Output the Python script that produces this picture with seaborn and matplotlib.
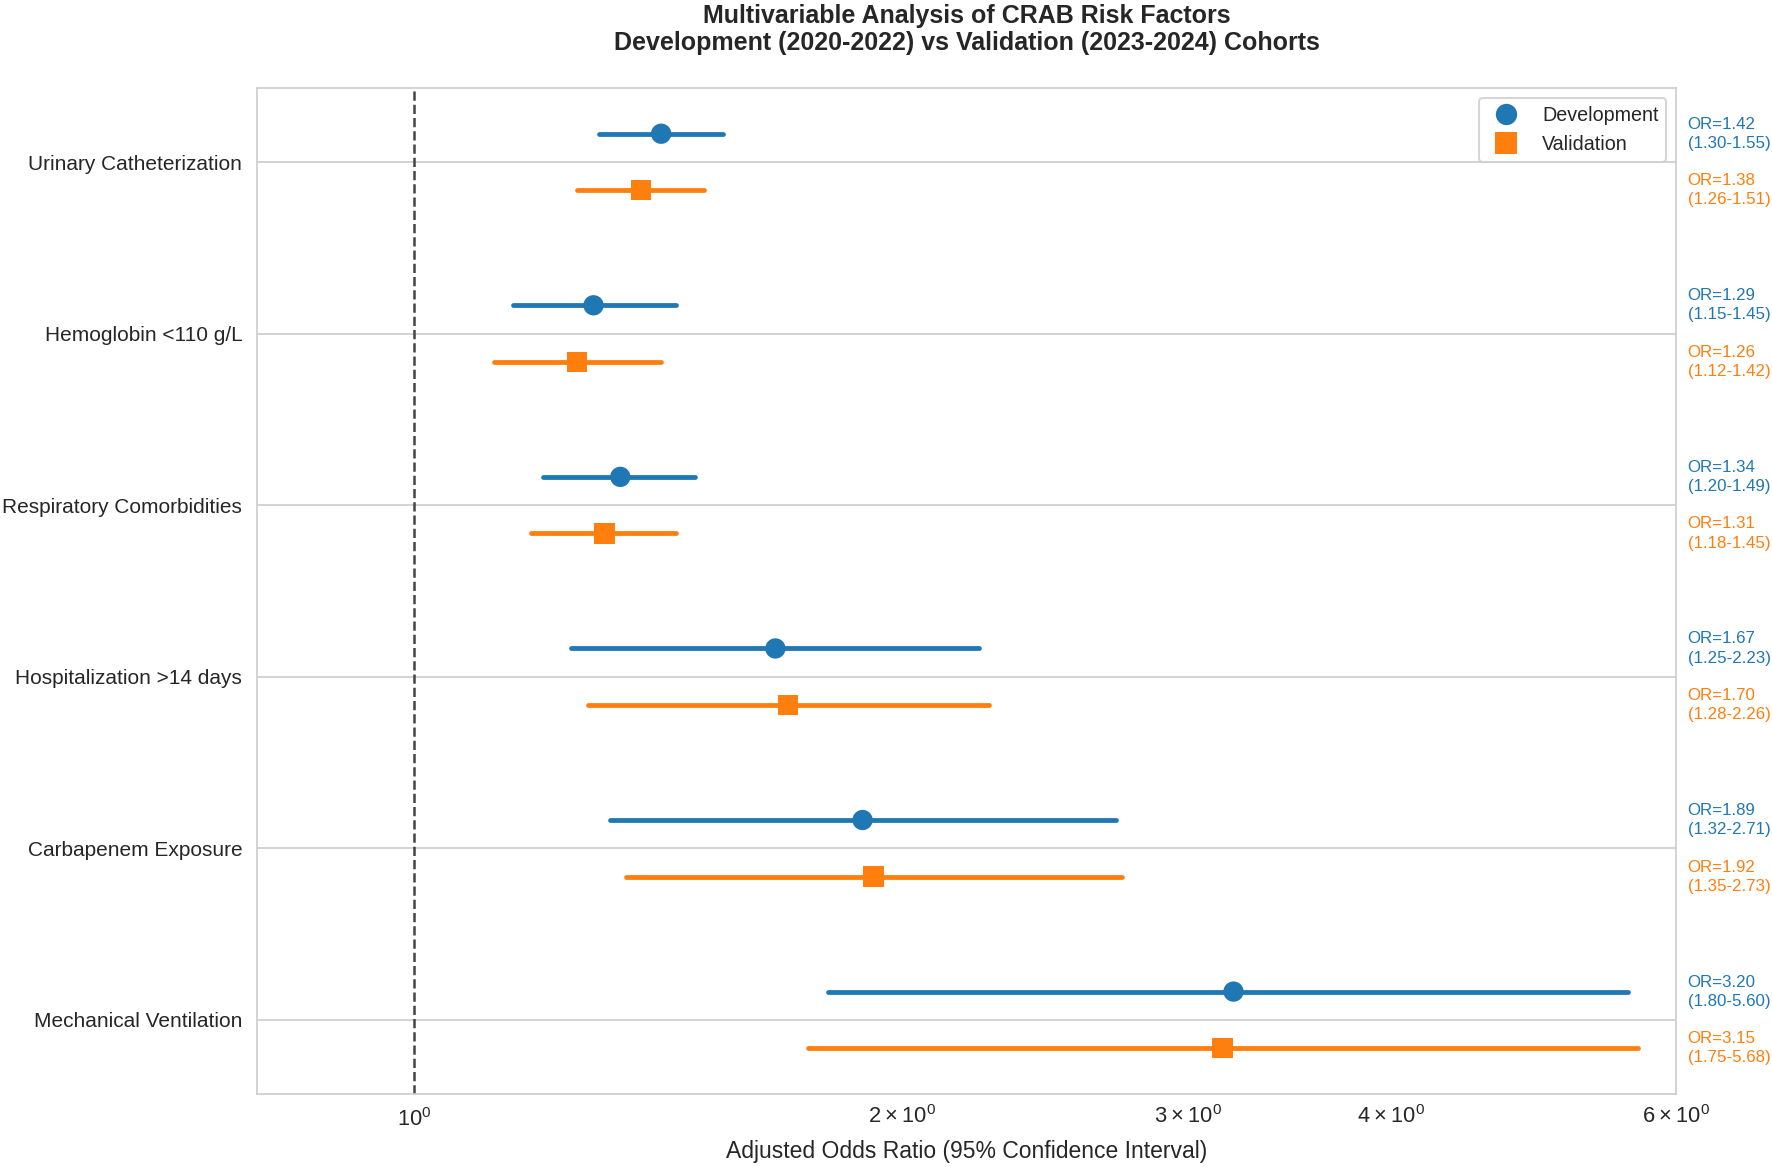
import matplotlib
matplotlib.use("Agg")
import matplotlib.pyplot as plt
import seaborn as sns
import pandas as pd
import numpy as np

# Data (top to bottom)
factors = ["Urinary Catheterization", "Hemoglobin <110 g/L", "Respiratory Comorbidities",
           "Hospitalization >14 days", "Carbapenem Exposure", "Mechanical Ventilation"]
dev_or = [1.42, 1.29, 1.34, 1.67, 1.89, 3.20]
dev_lo = [1.30, 1.15, 1.20, 1.25, 1.32, 1.80]
dev_hi = [1.55, 1.45, 1.49, 2.23, 2.71, 5.60]
val_or = [1.38, 1.26, 1.31, 1.70, 1.92, 3.15]
val_lo = [1.26, 1.12, 1.18, 1.28, 1.35, 1.75]
val_hi = [1.51, 1.42, 1.45, 2.26, 2.73, 5.68]

cohorts = ["Development", "Validation"]
colors = {"Development": "#1f77b4", "Validation": "#ff7f0e"}
offset = 0.165

rows = []
for i, f in enumerate(factors):
    rows.append({"factor": f, "cohort": "Development", "y": i - offset,
                 "OR": dev_or[i], "lo": dev_lo[i], "hi": dev_hi[i]})
    rows.append({"factor": f, "cohort": "Validation", "y": i + offset,
                 "OR": val_or[i], "lo": val_lo[i], "hi": val_hi[i]})
df = pd.DataFrame(rows)

sns.set_style("whitegrid")
plt.rcParams["font.family"] = ["Liberation Sans", "DejaVu Sans"]

fig = plt.figure(figsize=(1772 / 150, 1167 / 150), dpi=150)
ax = fig.add_axes([0.145, 0.0626, 0.801, 0.862])

# confidence interval lines
for c in cohorts:
    sub = df[df["cohort"] == c]
    ax.hlines(sub["y"], sub["lo"], sub["hi"], color=colors[c], linewidth=2.3,
              capstyle="round", zorder=2)

sns.scatterplot(data=df, x="OR", y="y", hue="cohort", style="cohort",
                markers={"Development": "o", "Validation": "s"},
                palette=colors, s=95, linewidth=0, ax=ax, zorder=3)

ax.axvline(1, color="#444444", linestyle="--", linewidth=1.2, zorder=1)

ax.set_xscale("log")
ax.set_xlim(0.8, 6)
ax.set_yticks(range(len(factors)))
ax.set_yticklabels(factors, fontsize=10)
ax.invert_yaxis()
ax.set_ylabel("")
ax.set_xlabel("Adjusted Odds Ratio (95% Confidence Interval)", fontsize=11)
ax.tick_params(axis="x", which="both", labelsize=10.5)
ax.grid(axis="x", which="both", visible=False)

for spine in ax.spines.values():
    spine.set_color("#cccccc")

# OR annotations to the right of the axes
trans = ax.get_yaxis_transform()
for _, r in df.iterrows():
    ax.text(1.008, r["y"], f"OR={r['OR']:.2f}\n({r['lo']:.2f}-{r['hi']:.2f})",
            transform=trans, ha="left", va="center", fontsize=8.1,
            color=colors[r["cohort"]], linespacing=1.35, clip_on=False)

leg = ax.legend(loc="upper right", fontsize=9.5, frameon=True, markerscale=1.05)
leg.set_title(None)

ax.set_title("Multivariable Analysis of CRAB Risk Factors\n"
             "Development (2020-2022) vs Validation (2023-2024) Cohorts",
             fontsize=12, fontweight="bold", pad=18, linespacing=1.2)

fig.savefig("out.png", dpi=150)
